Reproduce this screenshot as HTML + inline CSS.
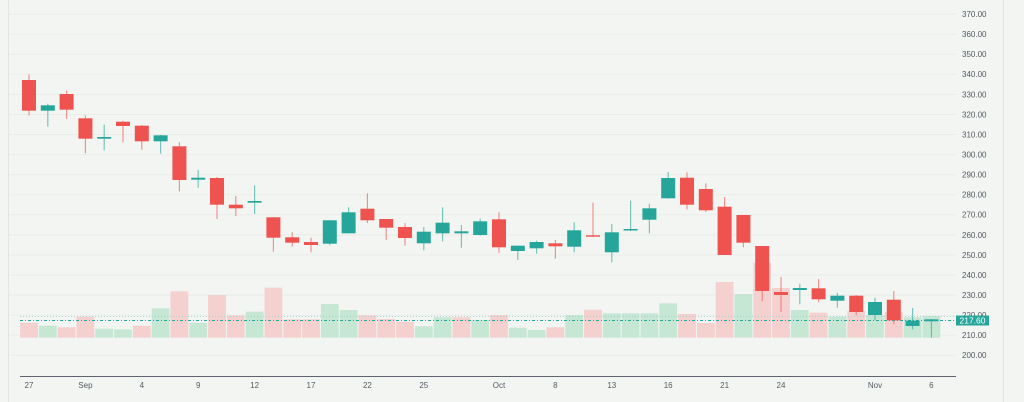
<!DOCTYPE html>
<html><head><meta charset="utf-8"><style>
html,body{margin:0;padding:0;background:#f2f5f2;}
svg{display:block;}
text{font-family:"Liberation Sans",sans-serif;}
</style></head><body>
<svg width="1024" height="402" viewBox="0 0 1024 402" xmlns="http://www.w3.org/2000/svg">
<rect x="0" y="0" width="1024" height="402" fill="#f2f5f2"/>
<line x1="8.5" y1="0" x2="8.5" y2="402" stroke="#e2e6e2" stroke-width="1"/>
<line x1="1003.5" y1="0" x2="1003.5" y2="402" stroke="#e2e6e2" stroke-width="1"/>
<g stroke="#e9ede9" stroke-width="1">
<line x1="9" x2="956" y1="14.1" y2="14.1"/><line x1="9" x2="956" y1="34.2" y2="34.2"/><line x1="9" x2="956" y1="54.2" y2="54.2"/><line x1="9" x2="956" y1="74.3" y2="74.3"/><line x1="9" x2="956" y1="94.4" y2="94.4"/><line x1="9" x2="956" y1="114.5" y2="114.5"/><line x1="9" x2="956" y1="134.5" y2="134.5"/><line x1="9" x2="956" y1="154.6" y2="154.6"/><line x1="9" x2="956" y1="174.7" y2="174.7"/><line x1="9" x2="956" y1="194.7" y2="194.7"/><line x1="9" x2="956" y1="214.8" y2="214.8"/><line x1="9" x2="956" y1="234.9" y2="234.9"/><line x1="9" x2="956" y1="255.0" y2="255.0"/><line x1="9" x2="956" y1="275.0" y2="275.0"/><line x1="9" x2="956" y1="295.1" y2="295.1"/><line x1="9" x2="956" y1="315.2" y2="315.2"/><line x1="9" x2="956" y1="335.2" y2="335.2"/><line x1="9" x2="956" y1="355.3" y2="355.3"/>
</g>
<!-- volume -->
<g>
<rect x="20.1" y="322.7" width="17.8" height="15" fill="#f4d1cf"/>
<rect x="38.9" y="325.7" width="17.8" height="12" fill="#c7e7d5"/>
<rect x="57.7" y="327.3" width="17.8" height="10.4" fill="#f4d1cf"/>
<rect x="76.5" y="316.7" width="17.8" height="21" fill="#f4d1cf"/>
<rect x="95.3" y="328.7" width="17.8" height="9" fill="#c7e7d5"/>
<rect x="114.1" y="329.3" width="17.8" height="8.4" fill="#c7e7d5"/>
<rect x="132.9" y="325.7" width="17.8" height="12" fill="#f4d1cf"/>
<rect x="151.7" y="308.3" width="17.8" height="29.4" fill="#c7e7d5"/>
<rect x="170.5" y="291.3" width="17.8" height="46.4" fill="#f4d1cf"/>
<rect x="189.3" y="322.7" width="17.8" height="15" fill="#c7e7d5"/>
<rect x="208.1" y="295" width="17.8" height="42.7" fill="#f4d1cf"/>
<rect x="226.9" y="315.3" width="17.8" height="22.4" fill="#f4d1cf"/>
<rect x="245.7" y="311.7" width="17.8" height="26" fill="#c7e7d5"/>
<rect x="264.5" y="287.7" width="17.8" height="50" fill="#f4d1cf"/>
<rect x="283.3" y="319.3" width="17.8" height="18.4" fill="#f4d1cf"/>
<rect x="302.1" y="319.3" width="17.8" height="18.4" fill="#f4d1cf"/>
<rect x="320.9" y="304" width="17.8" height="33.7" fill="#c7e7d5"/>
<rect x="339.7" y="310" width="17.8" height="27.7" fill="#c7e7d5"/>
<rect x="358.5" y="315.3" width="17.8" height="22.4" fill="#f4d1cf"/>
<rect x="377.3" y="319" width="17.8" height="18.7" fill="#f4d1cf"/>
<rect x="396.1" y="321.7" width="17.8" height="16" fill="#f4d1cf"/>
<rect x="414.9" y="326.3" width="17.8" height="11.4" fill="#c7e7d5"/>
<rect x="433.7" y="317.3" width="17.8" height="20.4" fill="#c7e7d5"/>
<rect x="452.5" y="317.3" width="17.8" height="20.4" fill="#f4d1cf"/>
<rect x="471.3" y="320" width="17.8" height="17.7" fill="#c7e7d5"/>
<rect x="490.1" y="315" width="17.8" height="22.7" fill="#f4d1cf"/>
<rect x="508.9" y="327.7" width="17.8" height="10" fill="#c7e7d5"/>
<rect x="527.7" y="330" width="17.8" height="7.7" fill="#c7e7d5"/>
<rect x="546.5" y="327.3" width="17.8" height="10.4" fill="#f4d1cf"/>
<rect x="565.3" y="315" width="17.8" height="22.7" fill="#c7e7d5"/>
<rect x="584.1" y="309.7" width="17.8" height="28" fill="#f4d1cf"/>
<rect x="602.9" y="313.3" width="17.8" height="24.4" fill="#c7e7d5"/>
<rect x="621.7" y="313.3" width="17.8" height="24.4" fill="#c7e7d5"/>
<rect x="640.5" y="313.3" width="17.8" height="24.4" fill="#c7e7d5"/>
<rect x="659.3" y="303.3" width="17.8" height="34.4" fill="#c7e7d5"/>
<rect x="678.1" y="314" width="17.8" height="23.7" fill="#f4d1cf"/>
<rect x="696.9" y="323" width="17.8" height="14.7" fill="#f4d1cf"/>
<rect x="715.7" y="282" width="17.8" height="55.7" fill="#f4d1cf"/>
<rect x="734.5" y="294" width="17.8" height="43.7" fill="#c7e7d5"/>
<rect x="753.3" y="262.7" width="17.8" height="75" fill="#f4d1cf"/>
<rect x="772.1" y="288" width="17.8" height="49.7" fill="#f4d1cf"/>
<rect x="790.9" y="310" width="17.8" height="27.7" fill="#c7e7d5"/>
<rect x="809.7" y="312.7" width="17.8" height="25" fill="#f4d1cf"/>
<rect x="828.5" y="316.7" width="17.8" height="21" fill="#c7e7d5"/>
<rect x="847.3" y="311" width="17.8" height="26.7" fill="#f4d1cf"/>
<rect x="866.1" y="315" width="17.8" height="22.7" fill="#c7e7d5"/>
<rect x="884.9" y="312" width="17.8" height="25.7" fill="#f4d1cf"/>
<rect x="903.7" y="317.3" width="17.8" height="20.4" fill="#c7e7d5"/>
<rect x="922.5" y="316" width="17.8" height="21.7" fill="#c7e7d5"/>
</g>
<!-- price lines -->
<line x1="20" y1="316.5" x2="956" y2="316.5" stroke="#9fd6cf" stroke-width="1" stroke-dasharray="1 2"/>
<line x1="20" y1="320.5" x2="956" y2="320.5" stroke="#26a69a" stroke-width="1" stroke-dasharray="3 2 1 2"/>
<!-- wicks -->
<g stroke-width="1.2" opacity="0.6">
<line x1="29" x2="29" y1="74.3" y2="115.3" stroke="#ef5350"/>
<line x1="47.8" x2="47.8" y1="103.7" y2="126.7" stroke="#26a69a"/>
<line x1="66.6" x2="66.6" y1="90.7" y2="119" stroke="#ef5350"/>
<line x1="85.4" x2="85.4" y1="115.3" y2="153.3" stroke="#ef5350"/>
<line x1="104.2" x2="104.2" y1="124.7" y2="150.3" stroke="#26a69a"/>
<line x1="123" x2="123" y1="121" y2="142.3" stroke="#ef5350"/>
<line x1="141.8" x2="141.8" y1="125" y2="149.7" stroke="#ef5350"/>
<line x1="160.6" x2="160.6" y1="135" y2="153.7" stroke="#26a69a"/>
<line x1="179.4" x2="179.4" y1="142.3" y2="191.3" stroke="#ef5350"/>
<line x1="198.2" x2="198.2" y1="170" y2="187.7" stroke="#26a69a"/>
<line x1="217" x2="217" y1="177" y2="219" stroke="#ef5350"/>
<line x1="235.8" x2="235.8" y1="196" y2="216" stroke="#ef5350"/>
<line x1="254.6" x2="254.6" y1="185.3" y2="214" stroke="#26a69a"/>
<line x1="273.4" x2="273.4" y1="217" y2="251.7" stroke="#ef5350"/>
<line x1="292.2" x2="292.2" y1="232.3" y2="246.7" stroke="#ef5350"/>
<line x1="311" x2="311" y1="237.7" y2="252.3" stroke="#ef5350"/>
<line x1="329.8" x2="329.8" y1="220" y2="245.3" stroke="#26a69a"/>
<line x1="348.6" x2="348.6" y1="207.3" y2="233.5" stroke="#26a69a"/>
<line x1="367.4" x2="367.4" y1="193.3" y2="223" stroke="#ef5350"/>
<line x1="386.2" x2="386.2" y1="219" y2="240" stroke="#ef5350"/>
<line x1="405" x2="405" y1="223" y2="245.7" stroke="#ef5350"/>
<line x1="423.8" x2="423.8" y1="227" y2="250.3" stroke="#26a69a"/>
<line x1="442.6" x2="442.6" y1="207.3" y2="241.3" stroke="#26a69a"/>
<line x1="461.4" x2="461.4" y1="225" y2="247.7" stroke="#26a69a"/>
<line x1="480.2" x2="480.2" y1="218.7" y2="235.5" stroke="#26a69a"/>
<line x1="499" x2="499" y1="212" y2="253" stroke="#ef5350"/>
<line x1="517.8" x2="517.8" y1="245.5" y2="260" stroke="#26a69a"/>
<line x1="536.6" x2="536.6" y1="240.7" y2="253.7" stroke="#26a69a"/>
<line x1="555.4" x2="555.4" y1="240" y2="258.7" stroke="#ef5350"/>
<line x1="574.2" x2="574.2" y1="222.3" y2="252.3" stroke="#26a69a"/>
<line x1="593" x2="593" y1="202.7" y2="237" stroke="#ef5350"/>
<line x1="611.8" x2="611.8" y1="224" y2="262.3" stroke="#26a69a"/>
<line x1="630.6" x2="630.6" y1="200.7" y2="231" stroke="#26a69a"/>
<line x1="649.4" x2="649.4" y1="203.7" y2="233.3" stroke="#26a69a"/>
<line x1="668.2" x2="668.2" y1="172" y2="198.5" stroke="#26a69a"/>
<line x1="687" x2="687" y1="172.3" y2="209.3" stroke="#ef5350"/>
<line x1="705.8" x2="705.8" y1="183.3" y2="212" stroke="#ef5350"/>
<line x1="724.6" x2="724.6" y1="197" y2="255" stroke="#ef5350"/>
<line x1="743.4" x2="743.4" y1="215" y2="247.3" stroke="#ef5350"/>
<line x1="762.2" x2="762.2" y1="246" y2="301.3" stroke="#ef5350"/>
<line x1="781" x2="781" y1="277" y2="312" stroke="#ef5350"/>
<line x1="799.8" x2="799.8" y1="283.7" y2="304.3" stroke="#26a69a"/>
<line x1="818.6" x2="818.6" y1="279" y2="302" stroke="#ef5350"/>
<line x1="837.4" x2="837.4" y1="292.7" y2="307.7" stroke="#26a69a"/>
<line x1="856.2" x2="856.2" y1="295" y2="315.3" stroke="#ef5350"/>
<line x1="875" x2="875" y1="297.7" y2="320" stroke="#26a69a"/>
<line x1="893.8" x2="893.8" y1="291" y2="324.3" stroke="#ef5350"/>
<line x1="912.6" x2="912.6" y1="308" y2="329.3" stroke="#26a69a"/>
<line x1="931.4" x2="931.4" y1="319" y2="337.7" stroke="#26a69a"/>
</g>
<!-- bodies -->
<g>
<rect x="22" y="80" width="14" height="30.7" fill="#ef5350"/>
<rect x="40.8" y="105.3" width="14" height="5.4" fill="#26a69a"/>
<rect x="59.6" y="94" width="14" height="15.7" fill="#ef5350"/>
<rect x="78.4" y="118.3" width="14" height="20.4" fill="#ef5350"/>
<rect x="97.2" y="137" width="14" height="1.7" fill="#26a69a"/>
<rect x="116" y="121.7" width="14" height="4.3" fill="#ef5350"/>
<rect x="134.8" y="125.7" width="14" height="15.6" fill="#ef5350"/>
<rect x="153.6" y="135.3" width="14" height="6" fill="#26a69a"/>
<rect x="172.4" y="146.3" width="14" height="33.7" fill="#ef5350"/>
<rect x="191.2" y="177.7" width="14" height="2" fill="#26a69a"/>
<rect x="210" y="178" width="14" height="26.7" fill="#ef5350"/>
<rect x="228.8" y="204.7" width="14" height="3.6" fill="#ef5350"/>
<rect x="247.6" y="201" width="14" height="1.7" fill="#26a69a"/>
<rect x="266.4" y="217.3" width="14" height="20.4" fill="#ef5350"/>
<rect x="285.2" y="237.3" width="14" height="5.4" fill="#ef5350"/>
<rect x="304" y="242" width="14" height="3" fill="#ef5350"/>
<rect x="322.8" y="220.3" width="14" height="23.4" fill="#26a69a"/>
<rect x="341.6" y="212.3" width="14" height="21" fill="#26a69a"/>
<rect x="360.4" y="208.7" width="14" height="11.6" fill="#ef5350"/>
<rect x="379.2" y="219" width="14" height="8.7" fill="#ef5350"/>
<rect x="398" y="227" width="14" height="11" fill="#ef5350"/>
<rect x="416.8" y="231.7" width="14" height="11.6" fill="#26a69a"/>
<rect x="435.6" y="222.7" width="14" height="10.6" fill="#26a69a"/>
<rect x="454.4" y="231.3" width="14" height="2" fill="#26a69a"/>
<rect x="473.2" y="221.3" width="14" height="13.7" fill="#26a69a"/>
<rect x="492" y="219.3" width="14" height="28" fill="#ef5350"/>
<rect x="510.8" y="245.7" width="14" height="5.3" fill="#26a69a"/>
<rect x="529.6" y="242" width="14" height="6.3" fill="#26a69a"/>
<rect x="548.4" y="243.3" width="14" height="3" fill="#ef5350"/>
<rect x="567.2" y="230.3" width="14" height="16.4" fill="#26a69a"/>
<rect x="586" y="235.3" width="14" height="1.4" fill="#ef5350"/>
<rect x="604.8" y="232.3" width="14" height="20" fill="#26a69a"/>
<rect x="623.6" y="229" width="14" height="1.5" fill="#26a69a"/>
<rect x="642.4" y="208.3" width="14" height="11.4" fill="#26a69a"/>
<rect x="661.2" y="178" width="14" height="20.3" fill="#26a69a"/>
<rect x="680" y="177.7" width="14" height="27" fill="#ef5350"/>
<rect x="698.8" y="189" width="14" height="21.3" fill="#ef5350"/>
<rect x="717.6" y="206.7" width="14" height="48.3" fill="#ef5350"/>
<rect x="736.4" y="215" width="14" height="27.7" fill="#ef5350"/>
<rect x="755.2" y="246" width="14" height="45" fill="#ef5350"/>
<rect x="774" y="292" width="14" height="3" fill="#ef5350"/>
<rect x="792.8" y="288" width="14" height="2" fill="#26a69a"/>
<rect x="811.6" y="288.3" width="14" height="11" fill="#ef5350"/>
<rect x="830.4" y="295.7" width="14" height="5" fill="#26a69a"/>
<rect x="849.2" y="295.7" width="14" height="16.3" fill="#ef5350"/>
<rect x="868" y="302" width="14" height="13" fill="#26a69a"/>
<rect x="886.8" y="299.7" width="14" height="20.6" fill="#ef5350"/>
<rect x="905.6" y="320.7" width="14" height="5.3" fill="#26a69a"/>
<rect x="924.4" y="319.3" width="14" height="2" fill="#26a69a"/>
</g>
<!-- x axis -->
<line x1="20" y1="376.5" x2="956" y2="376.5" stroke="#5f6270" stroke-width="1"/>
<g font-size="8" fill="#555a62" text-anchor="middle">
<text x="29" y="388">27</text><text x="85.4" y="388">Sep</text><text x="141.8" y="388">4</text><text x="198.2" y="388">9</text><text x="254.6" y="388">12</text><text x="311" y="388">17</text><text x="367.4" y="388">22</text><text x="423.8" y="388">25</text><text x="499" y="388">Oct</text><text x="555.4" y="388">8</text><text x="611.8" y="388">13</text><text x="668.2" y="388">16</text><text x="724.6" y="388">21</text><text x="781" y="388">24</text><text x="875" y="388">Nov</text><text x="931.4" y="388">6</text>
</g>
<!-- y axis labels -->
<g font-size="8" fill="#555a62">
<text x="962" y="17">370.00</text><text x="962" y="37.1">360.00</text><text x="962" y="57.1">350.00</text><text x="962" y="77.2">340.00</text><text x="962" y="97.3">330.00</text><text x="962" y="117.4">320.00</text><text x="962" y="137.4">310.00</text><text x="962" y="157.5">300.00</text><text x="962" y="177.6">290.00</text><text x="962" y="197.6">280.00</text><text x="962" y="217.7">270.00</text><text x="962" y="237.8">260.00</text><text x="962" y="257.9">250.00</text><text x="962" y="277.9">240.00</text><text x="962" y="298">230.00</text><text x="962" y="318.1">220.00</text><text x="962" y="338.1">210.00</text><text x="962" y="358.2">200.00</text>
</g>
<rect x="956" y="315.5" width="33" height="10" fill="#26a69a"/>
<text x="972.5" y="323.5" font-size="8.5" fill="#ffffff" text-anchor="middle">217.60</text>
</svg>
</body></html>
